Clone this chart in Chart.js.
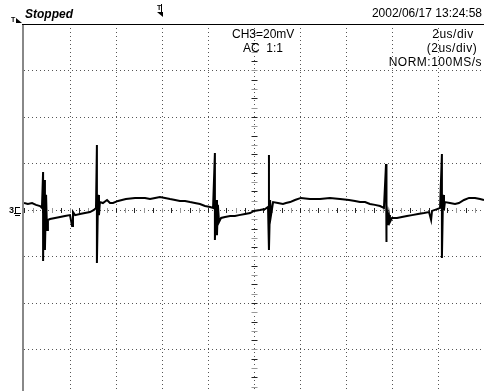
<!DOCTYPE html>
<html><head><meta charset="utf-8">
<script src="https://cdn.jsdelivr.net/npm/chart.js@4/dist/chart.umd.min.js"></script>
<style>html,body{margin:0;padding:0;background:#fff;overflow:hidden}canvas{position:absolute;left:0;top:0}</style>
</head><body>
<canvas id="c" width="484" height="391"></canvas>
<script>
// Time (µs) and CH3 voltage (mV)
const timeUs = [-10.00,-9.83,-9.65,-9.48,-9.30,-9.22,-9.17,-9.17,-9.13,-9.09,-9.04,-9.00,-8.96,-8.87,-8.65,-8.43,-8.22,-8.00,-7.91,-7.87,-7.78,-7.57,-7.35,-7.13,-6.96,-6.87,-6.83,-6.83,-6.78,-6.74,-6.70,-6.57,-6.39,-6.26,-6.13,-5.91,-5.74,-5.57,-5.17,-4.74,-4.52,-4.30,-4.09,-3.87,-3.65,-3.43,-3.22,-3.00,-2.78,-2.57,-2.35,-2.13,-1.91,-1.78,-1.70,-1.70,-1.65,-1.61,-1.57,-1.52,-1.43,-1.26,-1.04,-0.83,-0.65,-0.39,-0.17,0.00,0.26,0.48,0.61,0.65,0.65,0.70,0.74,0.83,1.04,1.26,1.39,1.57,1.78,2.04,2.43,2.87,3.30,3.74,4.13,4.39,4.61,4.83,5.04,5.26,5.48,5.65,5.74,5.74,5.78,5.83,5.87,5.91,6.00,6.22,6.43,6.65,6.87,7.13,7.39,7.61,7.70,7.74,7.96,8.09,8.17,8.17,8.22,8.26,8.30,8.52,8.74,8.91,9.13,9.35,9.61,9.83,10.00];
const ch3mV = [3.0,2.6,3.0,2.2,1.7,0.9,16.3,-21.9,12.9,-17.2,6.5,-8.6,-4.3,-3.9,-3.4,-3.0,-2.6,-2.2,-6.9,-0.9,-2.2,-1.7,-1.3,-0.9,0.0,0.9,28.0,-22.8,6.5,-2.2,3.4,3.0,4.3,3.0,3.0,3.9,4.3,4.7,5.2,5.2,4.7,5.2,5.6,5.2,4.7,4.3,3.9,3.9,3.4,3.0,2.6,1.7,1.3,0.9,24.5,-12.9,4.3,-10.8,2.2,-5.2,-3.4,-3.0,-2.6,-2.6,-2.2,-1.7,-1.3,-0.4,0.0,0.4,1.3,23.7,-17.2,4.3,-2.2,3.4,3.0,2.6,3.0,3.4,4.3,5.2,4.7,4.7,5.2,4.7,4.3,3.9,3.4,3.4,2.6,2.2,1.7,0.9,19.8,-13.8,2.2,-6.5,-2.2,-5.2,-3.4,-3.4,-3.0,-2.6,-2.2,-1.7,-1.3,-0.9,-4.3,-0.4,0.4,0.9,24.1,-20.6,6.5,0.0,3.4,3.0,2.6,3.0,4.3,5.2,5.2,4.7,4.3];
const xGridUs = [-8,-6,-4,-2,0,2,4,6,8];
const yGridMv = [-60,-40,-20,0,20,40,60];
const headerTexts = ["Stopped", "2002/06/17 13:24:58"];
const infoLeft = ["CH3=20mV", "AC  1:1"];
const infoRight = ["2us/div", "(2us/div)", "NORM:100MS/s"];

const scopePlugin = {
  id: 'scope',
  beforeDatasetsDraw(chart) {
    const {ctx, chartArea: a, scales: {x, y}} = chart;
    ctx.save();
    ctx.lineWidth = 1;
    ctx.strokeStyle = '#555';
    ctx.setLineDash([1, 3]);
    xGridUs.forEach(v => {
      const px = Math.round(x.getPixelForValue(v)) + 0.5;
      ctx.beginPath(); ctx.moveTo(px, a.top); ctx.lineTo(px, a.bottom); ctx.stroke();
    });
    yGridMv.forEach(v => {
      const py = Math.round(y.getPixelForValue(v)) + 0.5;
      ctx.beginPath(); ctx.moveTo(a.left, py); ctx.lineTo(a.right, py); ctx.stroke();
    });
    ctx.setLineDash([]);
    const cx = Math.round(x.getPixelForValue(0)) + 0.5;
    const cy = Math.round(y.getPixelForValue(0)) + 0.5;
    let k = 0;
    for (let v = -10; v <= 10.001; v += 0.4, k++) {
      const px = Math.round(x.getPixelForValue(v)) + 0.5;
      ctx.strokeStyle = k % 2 ? '#999' : '#222';
      ctx.beginPath(); ctx.moveTo(px, cy - 2.5); ctx.lineTo(px, cy + 2.5); ctx.stroke();
    }
    k = 0;
    for (let v = -80; v <= 80.001; v += 4, k++) {
      const py = Math.round(y.getPixelForValue(v)) + 0.5;
      ctx.strokeStyle = k % 2 ? '#999' : '#222';
      ctx.beginPath(); ctx.moveTo(cx - 3, py); ctx.lineTo(cx + 3, py); ctx.stroke();
    }
    ctx.restore();
  },
  afterDraw(chart) {
    const {ctx, chartArea: a, scales: {x, y}} = chart;
    ctx.save();
    ctx.strokeStyle = '#888'; ctx.lineWidth = 2;
    ctx.beginPath(); ctx.moveTo(a.left - 1, a.top); ctx.lineTo(a.left - 1, a.bottom); ctx.stroke();
    ctx.strokeStyle = '#000'; ctx.lineWidth = 1;
    ctx.beginPath(); ctx.moveTo(a.left - 2, a.top + 0.5); ctx.lineTo(a.right, a.top + 0.5); ctx.stroke();
    ctx.fillStyle = '#000';
    ctx.textBaseline = 'alphabetic';
    ctx.font = 'italic bold 12px "Liberation Sans", Arial, sans-serif';
    ctx.textAlign = 'left';
    ctx.fillText(headerTexts[0], 25, 18);
    ctx.font = '12px "Liberation Sans", Arial, sans-serif';
    ctx.textAlign = 'right';
    ctx.fillText(headerTexts[1], 482, 17);
    ctx.font = 'bold 7px "Liberation Sans", sans-serif';
    ctx.textAlign = 'left';
    ctx.fillText('T', 11, 22);
    ctx.beginPath(); ctx.moveTo(16, 18); ctx.lineTo(22, 23); ctx.lineTo(16, 23); ctx.closePath(); ctx.fill();
    const tx = Math.round(x.getPixelForValue(-4.09));
    ctx.fillText('T', tx - 3, 10);
    ctx.fillRect(tx + 1, 4, 1, 10);
    ctx.beginPath(); ctx.moveTo(tx - 3, 12); ctx.lineTo(tx + 3, 12); ctx.lineTo(tx + 3, 17); ctx.closePath(); ctx.fill();
    ctx.font = '12px "Liberation Sans", Arial, sans-serif';
    ctx.textAlign = 'left';
    ctx.fillText(infoLeft[0], 232, 38);
    ctx.fillText(infoLeft[1], 243, 52);
    ctx.letterSpacing = '0.5px';
    ctx.textAlign = 'center';
    ctx.fillText(infoRight[0], 453, 38);
    ctx.fillText(infoRight[1], 452, 52);
    ctx.textAlign = 'right';
    ctx.fillText(infoRight[2], 482, 66);
    ctx.letterSpacing = '0px';
    const gy = Math.round(y.getPixelForValue(0));
    ctx.font = 'bold 9px "Liberation Sans", sans-serif';
    ctx.textAlign = 'left';
    ctx.fillText('3', 9, gy + 3);
    ctx.fillRect(15, gy - 3, 1, 7);
    ctx.fillRect(15, gy - 3, 5, 1);
    ctx.fillRect(14, gy + 3, 7, 1);
    ctx.fillRect(15, gy + 5, 5, 1);
    ctx.restore();
  }
};

new Chart(document.getElementById('c'), {
  type: 'line',
  data: {
    datasets: [{
      data: timeUs.map((t, i) => ({x: t, y: ch3mV[i]})),
      borderColor: '#000', borderWidth: 2, pointRadius: 0, tension: 0, fill: false
    }]
  },
  options: {
    responsive: false, animation: false, events: [],
    layout: {padding: {left: 24, top: 24, right: 0, bottom: 0}},
    plugins: {legend: {display: false}, tooltip: {enabled: false}},
    scales: {
      x: {type: 'linear', min: -10, max: 10, display: false},
      y: {type: 'linear', min: -77.85, max: 80, display: false}
    }
  },
  plugins: [scopePlugin]
});
</script>
</body></html>
